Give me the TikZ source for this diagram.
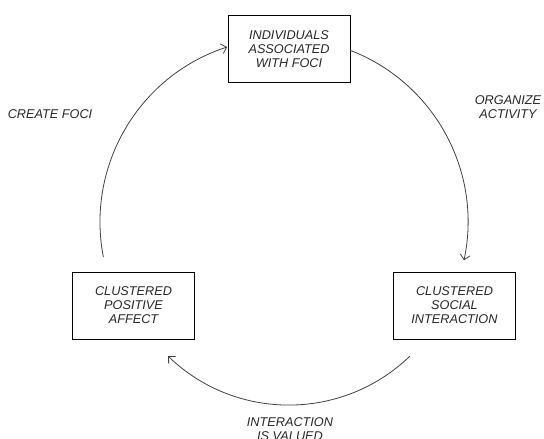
\documentclass[tikz,border=0pt]{standalone}
\usepackage{fontspec}
\setmainfont{Liberation Sans}
\usetikzlibrary{arrows.meta}
\begin{document}
\begin{tikzpicture}[x=1pt, y=1pt, font=\fontsize{12.7}{14}\selectfont\itshape,
	stage/.style={draw, line width=0.8pt, text=black!85, align=center, minimum width=122pt, minimum height=67pt, inner sep=0pt},
	loop/.style={line width=0.8pt, black!75, -{Straight Barb[length=5pt, width=10pt]}},
	tag/.style={text=black!85, align=center}]
	\useasboundingbox (0,0) rectangle (544,439);
	\coordinate (hub) at (284,217);
	\coordinate (hubLow) at (289,208);
	\node[stage] (F) at (289,390) {INDIVIDUALS\\ASSOCIATED\\WITH FOCI};
	\node[stage] (A) at (133.5,133.5) {CLUSTERED\\POSITIVE\\AFFECT};
	\node[stage] (S) at (454.5,133.5) {CLUSTERED\\SOCIAL\\INTERACTION};
	\node[tag] (tCreate) at (50,325) {CREATE FOCI};
	\node[tag] (tOrganize) at (508,332) {ORGANIZE\\ACTIVITY};
	\node[tag] (tValued) at (290,10) {INTERACTION\\IS VALUED};
	% cycle of arcs round the hub
	\draw[loop] ([shift={(hub)}]191:184) arc[start angle=191, end angle=108, radius=184];
	\draw[loop] ([shift={(hub)}]69:184) arc[start angle=69, end angle=-12, radius=184];
	\draw[loop] ([shift={(hubLow)}]-46:174) arc[start angle=-46, end angle=-134, radius=174];
\end{tikzpicture}
\end{document}
